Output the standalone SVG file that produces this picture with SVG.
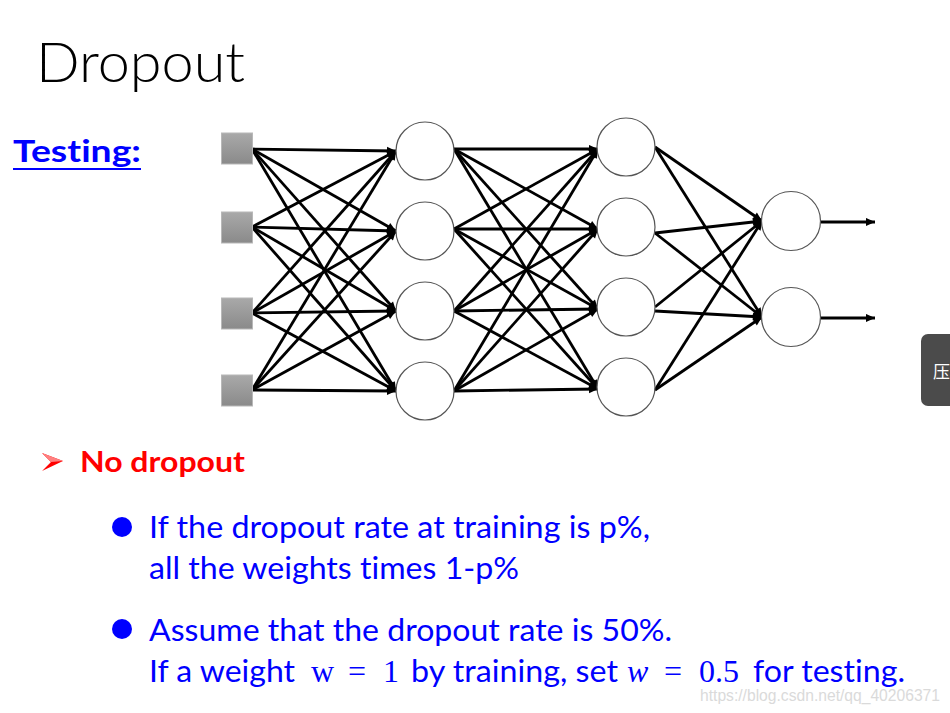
<svg xmlns="http://www.w3.org/2000/svg" width="950" height="713" viewBox="0 0 950 713">
<defs>
<linearGradient id="sq" x1="0" y1="0" x2="0" y2="1">
<stop offset="0" stop-color="#a9a9a9"/>
<stop offset="1" stop-color="#8a8a8a"/>
</linearGradient>
<marker id="ah" viewBox="0 0 10 10" refX="10" refY="5" markerWidth="11" markerHeight="9" markerUnits="userSpaceOnUse" orient="auto">
<path d="M0,0.5 L10,5 L0,9.5 z" fill="#000"/>
</marker>
</defs>
<style>
text{font-variant-ligatures:none;font-feature-settings:"liga" 0,"clig" 0}
.in{fill:url(#sq);stroke:#b8b8b8;stroke-width:1}
.nd{fill:#fff;stroke:#555;stroke-width:1.2}
.e{stroke:#000;stroke-width:2.8;fill:none;marker-end:url(#ah)}
.body{font-family:Lato,"Open Sans",sans-serif;font-size:30px;fill:#0000ff}
.math{font-family:"Liberation Serif","DejaVu Serif",serif;font-size:32px;fill:#0000ff}
</style>
<rect width="950" height="713" fill="#fff"/>
<text x="36" y="82" font-family="Lato,'Open Sans',sans-serif" font-weight="300" font-size="56" fill="#000" textLength="209" lengthAdjust="spacingAndGlyphs">Dropout</text>
<text x="13" y="162" font-family="Lato,'Open Sans',sans-serif" font-weight="700" font-size="31" fill="#0000ff" textLength="128" lengthAdjust="spacingAndGlyphs">Testing:</text>
<rect x="13" y="168" width="128" height="2" fill="#0000ff"/>
<g id="connectors">
<line class="e" x1="252" y1="149" x2="396" y2="151"/><line class="e" x1="252" y1="149" x2="396" y2="231"/><line class="e" x1="252" y1="149" x2="396" y2="311"/><line class="e" x1="252" y1="149" x2="396" y2="391"/>
<line class="e" x1="252" y1="227" x2="396" y2="151"/><line class="e" x1="252" y1="227" x2="396" y2="231"/><line class="e" x1="252" y1="227" x2="396" y2="311"/><line class="e" x1="252" y1="227" x2="396" y2="391"/>
<line class="e" x1="252" y1="313" x2="396" y2="151"/><line class="e" x1="252" y1="313" x2="396" y2="231"/><line class="e" x1="252" y1="313" x2="396" y2="311"/><line class="e" x1="252" y1="313" x2="396" y2="391"/>
<line class="e" x1="252" y1="390" x2="396" y2="151"/><line class="e" x1="252" y1="390" x2="396" y2="231"/><line class="e" x1="252" y1="390" x2="396" y2="311"/><line class="e" x1="252" y1="390" x2="396" y2="391"/>
<line class="e" x1="454" y1="149" x2="598" y2="149"/><line class="e" x1="454" y1="149" x2="598" y2="229"/><line class="e" x1="454" y1="149" x2="598" y2="309"/><line class="e" x1="454" y1="149" x2="598" y2="389"/>
<line class="e" x1="454" y1="229" x2="598" y2="149"/><line class="e" x1="454" y1="229" x2="598" y2="229"/><line class="e" x1="454" y1="229" x2="598" y2="309"/><line class="e" x1="454" y1="229" x2="598" y2="389"/>
<line class="e" x1="454" y1="311" x2="598" y2="149"/><line class="e" x1="454" y1="311" x2="598" y2="229"/><line class="e" x1="454" y1="311" x2="598" y2="309"/><line class="e" x1="454" y1="311" x2="598" y2="389"/>
<line class="e" x1="454" y1="391" x2="598" y2="149"/><line class="e" x1="454" y1="391" x2="598" y2="229"/><line class="e" x1="454" y1="391" x2="598" y2="309"/><line class="e" x1="454" y1="391" x2="598" y2="389"/>
<line class="e" x1="655" y1="147" x2="762" y2="221"/><line class="e" x1="655" y1="147" x2="762" y2="317"/>
<line class="e" x1="655" y1="233" x2="762" y2="221"/><line class="e" x1="655" y1="233" x2="762" y2="317"/>
<line class="e" x1="655" y1="307" x2="762" y2="221"/><line class="e" x1="655" y1="311" x2="762" y2="317"/>
<line class="e" x1="655" y1="390" x2="762" y2="221"/><line class="e" x1="655" y1="390" x2="762" y2="317"/>
<line class="e" x1="821" y1="222" x2="875" y2="222"/><line class="e" x1="821" y1="318" x2="875" y2="318"/>
</g>
<g id="input1"><rect class="in" x="221.5" y="133" width="31" height="31"/></g>
<g id="input2"><rect class="in" x="221.5" y="212" width="31" height="31"/></g>
<g id="input3"><rect class="in" x="221.5" y="298" width="31" height="31"/></g>
<g id="input4"><rect class="in" x="221.5" y="375" width="31" height="31"/></g>
<g id="h1a"><circle class="nd" cx="425" cy="151" r="29"/></g>
<g id="h1b"><circle class="nd" cx="425" cy="231" r="29"/></g>
<g id="h1c"><circle class="nd" cx="425" cy="311" r="29"/></g>
<g id="h1d"><circle class="nd" cx="425" cy="391" r="29"/></g>
<g id="h2a"><circle class="nd" cx="626" cy="147" r="29"/></g>
<g id="h2b"><circle class="nd" cx="626" cy="227" r="29"/></g>
<g id="h2c"><circle class="nd" cx="626" cy="307" r="29"/></g>
<g id="h2d"><circle class="nd" cx="626" cy="387" r="29"/></g>
<g id="out1"><circle class="nd" cx="791" cy="221" r="29.5"/></g>
<g id="out2"><circle class="nd" cx="791" cy="317" r="29.5"/></g>
<path d="M42,453 L63,461 L42,471 L51,462 z" fill="#ff0000"/>
<path d="M42,453 L63,461 L51,462 z" fill="#ff8080"/>
<text x="80" y="472" font-family="Lato,'Open Sans',sans-serif" font-weight="700" font-size="28" fill="#ff0000" textLength="165" lengthAdjust="spacingAndGlyphs">No dropout</text>
<circle cx="122" cy="527" r="10" fill="#0000ff"/>
<text class="body" x="149" y="538" textLength="501" lengthAdjust="spacingAndGlyphs">If the dropout rate at training is p%,</text>
<text class="body" x="149" y="579" textLength="370" lengthAdjust="spacingAndGlyphs">all the weights times 1-p%</text>
<circle cx="122" cy="629" r="10" fill="#0000ff"/>
<text class="body" x="149" y="641" textLength="523" lengthAdjust="spacingAndGlyphs">Assume that the dropout rate is 50%.</text>
<text class="body" x="149" y="682" textLength="146" lengthAdjust="spacingAndGlyphs">If a weight</text>
<text class="math" y="682"><tspan x="311">w</tspan><tspan x="348">=</tspan><tspan x="383">1</tspan></text>
<text class="body" x="411" y="682" textLength="207" lengthAdjust="spacingAndGlyphs">by training, set</text>
<text class="math" y="682"><tspan x="627" font-style="italic">w</tspan><tspan x="664">=</tspan><tspan x="699">0.5</tspan></text>
<text class="body" x="753" y="682" textLength="152" lengthAdjust="spacingAndGlyphs">for testing.</text>
<text x="700" y="701" font-family="'Liberation Sans',Arial,sans-serif" font-size="16" fill="#dadada" textLength="240" lengthAdjust="spacingAndGlyphs">https://blog.csdn.net/qq_40206371</text>
<rect x="921" y="334" width="45" height="72" rx="7" fill="#4b4b4b"/>
<text x="933" y="378" font-family="'Noto Sans CJK SC',sans-serif" font-size="17" fill="#fff">压</text>
</svg>
